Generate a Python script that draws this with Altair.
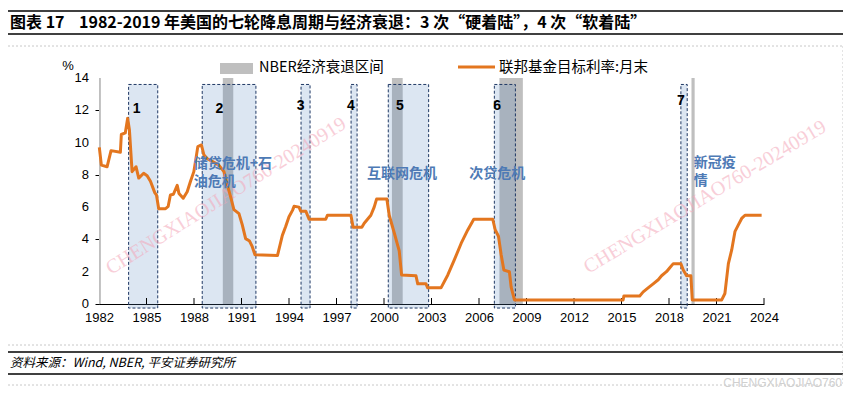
import altair as alt
import pandas as pd

# ---------------- data ----------------
# Fed funds target rate, month end (%), x in decimal years as placed on the chart axis
line_year = [1982.02, 1982.15, 1982.51, 1982.61, 1982.76, 1983.35, 1983.41, 1983.66, 1983.81, 1983.92,
             1984.09, 1984.34, 1984.51, 1984.82, 1985.04, 1985.25, 1985.52, 1985.63, 1985.77, 1986.20,
             1986.37, 1986.51, 1986.70, 1986.94, 1987.05, 1987.32, 1987.57, 1987.78, 1987.99, 1988.09,
             1988.24, 1988.47, 1988.62, 1988.84, 1989.04, 1989.57, 1989.89, 1990.10, 1990.31, 1990.52,
             1990.84, 1991.05, 1991.26, 1991.51, 1991.68, 1991.85, 1993.27, 1993.58, 1993.79, 1994.00,
             1994.22, 1994.32, 1994.63, 1994.74, 1995.06, 1995.27, 1996.32, 1996.43, 1997.91, 1998.05,
             1998.60, 1998.75, 1998.96, 1999.17, 1999.38, 1999.53, 2000.18, 2000.33, 2000.65, 2000.86,
             2000.96, 2001.11, 2002.02, 2002.13, 2002.65, 2002.76, 2003.60, 2004.03, 2004.44, 2004.87,
             2005.29, 2005.67, 2006.87, 2007.02, 2007.23, 2007.40, 2007.57, 2007.92, 2008.03, 2008.24,
             2015.10, 2015.15, 2016.15, 2016.37, 2016.68, 2017.00, 2017.32, 2017.53, 2017.84, 2018.05,
             2018.27, 2018.75, 2018.90, 2019.11, 2019.38, 2019.47, 2021.33, 2021.53, 2021.75, 2021.96,
             2022.17, 2022.38, 2022.59, 2022.80, 2023.85]
line_rate = [9.70, 8.60, 8.50, 8.90, 9.50, 9.40, 10.50, 10.60, 11.50, 10.80,
             8.20, 8.50, 7.80, 8.10, 7.95, 7.60, 6.90, 6.75, 5.90, 5.90,
             6.05, 6.75, 6.80, 7.35, 6.85, 6.55, 6.95, 7.60, 8.20, 8.80,
             9.75, 9.85, 9.25, 9.00, 8.90, 8.60, 8.20, 7.40, 6.65, 5.85,
             5.60, 4.90, 4.05, 3.90, 3.55, 3.05, 3.00, 4.25, 4.80, 5.40,
             5.80, 6.05, 6.00, 5.75, 5.75, 5.25, 5.25, 5.50, 5.50, 4.75,
             4.75, 5.00, 5.25, 5.50, 6.00, 6.50, 6.50, 5.50, 4.40, 3.65,
             3.30, 1.80, 1.75, 1.25, 1.25, 1.00, 1.00, 1.80, 2.73, 3.75,
             4.59, 5.25, 5.25, 4.60, 4.20, 3.05, 2.10, 2.00, 1.05, 0.25,
             0.25, 0.50, 0.50, 0.75, 1.00, 1.25, 1.50, 1.75, 2.00, 2.25,
             2.50, 2.50, 2.10, 1.75, 1.75, 0.25, 0.25, 0.65, 2.50, 3.35,
             4.50, 4.90, 5.30, 5.50, 5.50]

# rate-cut cycles (dashed blue boxes)
cycle_start = [1983.87, 1988.52, 1994.76, 1997.92, 2000.27, 2006.97, 2018.75]
cycle_end = [1985.71, 1991.91, 1995.33, 1998.30, 2002.82, 2008.30, 2019.15]
cycle_label = ["1", "2", "3", "4", "5", "6", "7"]
cycle_label_x = [1984.37, 1989.61, 1994.74, 1997.91, 2001.00, 2007.15, 2018.75]
cycle_label_y = [12.10, 12.10, 12.24, 12.24, 12.24, 12.28, 12.55]

# NBER recessions (grey bars)
rec_start = [1982.00, 1989.82, 2000.50, 2007.29, 2019.42]
rec_end = [1982.12, 1990.48, 2001.18, 2008.77, 2019.62]

# crisis notes
note_text = ["储贷危机+石", "油危机", "互联网危机", "次贷危机", "新冠疫", "情"]
note_x = [1987.99, 1987.99, 1998.92, 2005.39, 2019.57, 2019.57]
note_y = [8.66, 7.55, 8.06, 8.06, 8.74, 7.64]

x_ticks = list(range(1982, 2025, 3))
y_ticks = list(range(0, 15, 2))

NB = "\u00a0"
TITLE = "图表 17" + NB * 4 + "1982-2019 年美国的七轮降息周期与经济衰退：3 次“硬着陆”，4 次“软着陆”"
FOOTER = "资料来源：Wind, NBER, 平安证券研究所"
LEG1 = "NBER经济衰退区间"
LEG2 = "联邦基金目标利率:月末"
WATERMARK = "CHENGXIAOJIAO760-20240919"
WATERMARK2 = "CHENGXIAOJIAO760"

CJK = "Noto Sans CJK SC"
LAT = "Liberation Sans"
ORANGE = "#E3761F"
GREY = "#BFBFBF"
BLUE_TXT = "#4E7AB5"

W, H = 665, 226

line_df = pd.DataFrame({"year": line_year, "rate": line_rate})
cyc_df = pd.DataFrame({"s": cycle_start, "e": cycle_end})
lab_df = pd.DataFrame({"t": cycle_label, "x": cycle_label_x, "y": cycle_label_y})
rec_df = pd.DataFrame({"s": rec_start, "e": rec_end})
note_df = pd.DataFrame({"t": note_text, "x": note_x, "y": note_y})
xt_df = pd.DataFrame({"x": x_ticks[1:]})
yt_df = pd.DataFrame({"v": y_ticks})

xs = alt.Scale(domain=[1982, 2024], nice=False, zero=False)
ys = alt.Scale(domain=[0, 14], nice=False)

base_x_axis = alt.Axis(values=x_ticks, format="d", ticks=False, labelPadding=7, labelFlush=False,
                       labelOverlap=False, grid=False, title=None, domainColor="black",
                       labelFont=LAT, labelFontSize=13, labelColor="black")
base_y_axis = alt.Axis(values=y_ticks, tickSize=4, tickColor="black", labels=False, grid=False,
                       title=None, domainColor="black")

line = alt.Chart(line_df).mark_line(color=ORANGE, strokeWidth=3, strokeJoin="round").encode(
    x=alt.X("year:Q", scale=xs, axis=base_x_axis),
    y=alt.Y("rate:Q", scale=ys, axis=base_y_axis),
)

rec = alt.Chart(rec_df).mark_rect(color=GREY).encode(
    x=alt.X("s:Q", scale=xs, axis=base_x_axis),
    x2="e:Q",
    y=alt.datum(0, scale=ys, axis=base_y_axis),
    y2=alt.datum(14),
)

boxes = alt.Chart(cyc_df).mark_rect(fill="#4F81BD", fillOpacity=0.2, stroke="#1F3864",
                                    strokeDash=[3, 2], strokeWidth=1).encode(
    x="s:Q", x2="e:Q", y=alt.datum(-0.25), y2=alt.datum(13.6)
)

xtick = alt.Chart(xt_df).mark_rule(color="black", strokeWidth=1).encode(
    x="x:Q", y=alt.value(H), y2=alt.value(H - 6)
)

ylabels = alt.Chart(yt_df).mark_text(font=LAT, fontSize=13, color="black", align="right",
                                     baseline="middle").encode(
    x=alt.value(-10), y="v:Q", text="v:Q"
)

nums = alt.Chart(lab_df).mark_text(font=LAT, fontSize=14, fontWeight="bold", color="black",
                                   baseline="middle", align="center").encode(
    x="x:Q", y="y:Q", text="t:N"
)

notes = alt.Chart(note_df).mark_text(font=CJK, fontSize=14, fontWeight="bold", color=BLUE_TXT,
                                     baseline="middle", align="left").encode(
    x="x:Q", y="y:Q", text="t:N"
)


def txt(s, x, y, **kw):
    return alt.Chart(pd.DataFrame({"t": [s]})).mark_text(**kw).encode(
        text="t:N", x=alt.value(x), y=alt.value(y))


def hrule(x1, x2, y, **kw):
    return alt.Chart(pd.DataFrame({"a": [0]})).mark_rule(**kw).encode(
        x=alt.value(x1), x2=alt.value(x2), y=alt.value(y))


def vrule(x, y1, y2, **kw):
    return alt.Chart(pd.DataFrame({"a": [0]})).mark_rule(**kw).encode(
        x=alt.value(x), y=alt.value(y1), y2=alt.value(y2))


wm1 = txt(WATERMARK, 127, 118, font="Liberation Serif", fontSize=20, color="#F4A7B9",
          opacity=0.55, angle=328, align="center", baseline="middle")
wm2 = txt(WATERMARK, 606, 119, font="Liberation Serif", fontSize=20, color="#F4A7B9",
          opacity=0.55, angle=329, align="center", baseline="middle")
wm3 = txt(WATERMARK2, 743, 305, font=LAT, fontSize=12, color="#D0D0D0", align="right",
          baseline="middle")

title = txt(TITLE, -89, -55, font=CJK, fontSize=16, fontWeight="bold", color="black",
            align="left", baseline="middle")
footer = txt(FOOTER, -89, 285, font=CJK, fontSize=12.5, fontStyle="italic", color="black",
             align="left", baseline="middle")
pct = txt("%", -31, -12, font=LAT, fontSize=13, color="black", align="center", baseline="middle")

leg_rect = alt.Chart(pd.DataFrame({"a": [0]})).mark_rect(color=GREY).encode(
    x=alt.value(121), x2=alt.value(154), y=alt.value(-15), y2=alt.value(-4))
leg_t1 = txt(LEG1, 160, -10, font=CJK, fontSize=14.5, color="black", align="left",
             baseline="middle")
leg_line = hrule(359, 396, -11, color=ORANGE, strokeWidth=3)
leg_t2 = txt(LEG2, 400, -10, font=CJK, fontSize=14.5, color="black", align="left",
             baseline="middle")

r_top1 = hrule(-91, 744, -67, color="black", strokeWidth=1.5)
r_top2 = hrule(-91, 744, -44, color="black", strokeWidth=1.5)
r_bot1 = hrule(-91, 744, 274, color="black", strokeWidth=1.5)
r_bot2 = hrule(-91, 744, 296, color="black", strokeWidth=1.5)
d1 = hrule(-91, 744, -32, color="#C8C8C8", strokeDash=[2, 2], strokeWidth=1)
d2 = hrule(-91, 744, 267, color="#C8C8C8", strokeDash=[2, 2], strokeWidth=1)
d3 = hrule(-91, 744, 307, color="#C8C8C8", strokeDash=[2, 2], strokeWidth=1)
d4 = vrule(744, -32, 307, color="#C8C8C8", strokeDash=[2, 2], strokeWidth=1)

chart = alt.layer(
    rec, boxes, xtick, wm1, wm2, line, ylabels, nums, notes,
    title, footer, pct, leg_rect, leg_t1, leg_line, leg_t2,
    r_top1, r_top2, r_bot1, r_bot2, d1, d2, d3, d4, wm3,
).properties(
    width=W, height=H,
    padding={"left": 91, "top": 70, "right": 79, "bottom": 86},
    autosize=alt.AutoSizeParams(type="none"),
    background="white",
).configure_view(stroke=None)

chart.save("out.html", embed_options={"renderer": "svg", "actions": False})
